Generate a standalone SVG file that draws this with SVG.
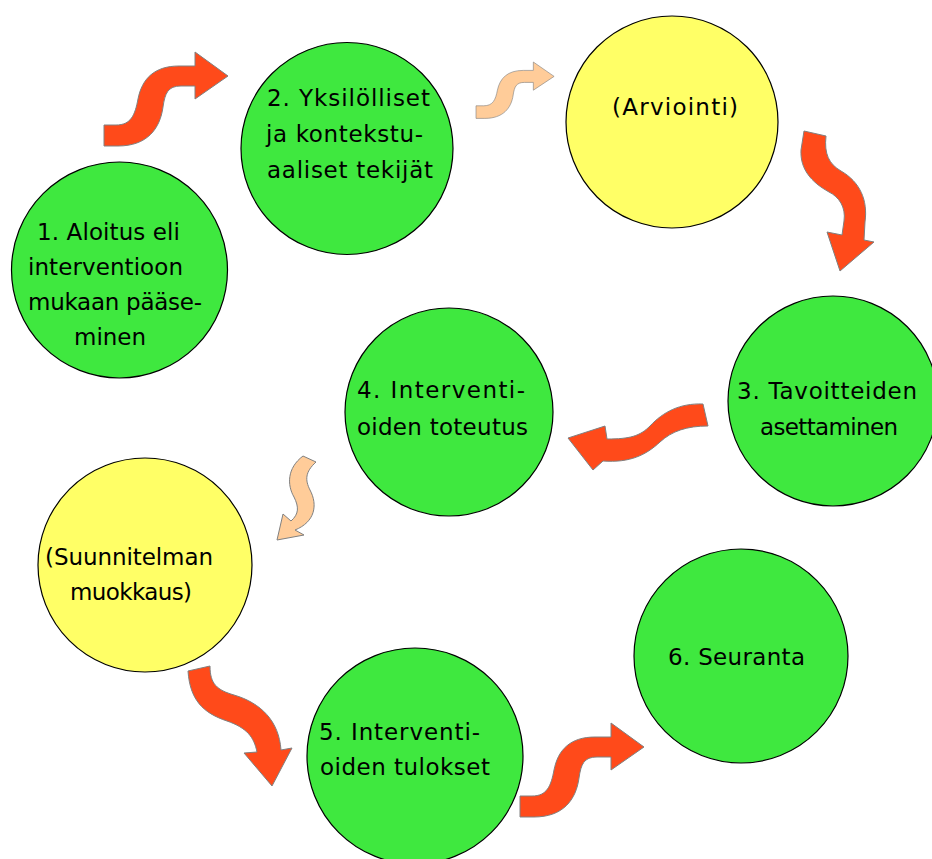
<svg xmlns="http://www.w3.org/2000/svg" xmlns:xlink="http://www.w3.org/1999/xlink" width="932" height="859" viewBox="0 0 932 859">
<style>
.g{fill:#3fe83f;stroke:#000;stroke-width:1.2}
.y{fill:#ffff66;stroke:#000;stroke-width:1.2}
.t{font-family:"DejaVu Sans","Liberation Sans",sans-serif;font-size:23px;fill:#000}
.a{fill:#ff4a1a;stroke:#808080;stroke-width:1}
.p{fill:#ffcc99;stroke:#808080;stroke-width:1}
</style>
<defs>
<path id="sarrow" d="M0,73 L12,73 C27,73 31,63 34,47 C38,27 50,14 75,14 L91,14 L91,0 L124,24 L91,47 L91,34 L77,34 C64,34 61,41 59,55 C56,77 43,94 14,94 L0,94 Z"/>
</defs>
<rect width="932" height="859" fill="#fff"/>
<g id="connectors">
<use xlink:href="#sarrow" class="a" transform="translate(104,52)"/>
<use xlink:href="#sarrow" class="p" transform="translate(476,62) scale(0.63,0.6)"/>
<path class="a" d="M804,131 L826,136 C824,154 829,164 841,171 C860,182 868,200 865,222 L864,240 L874,242 L840,271 L827,232 L842,235 L844,221 C846,207 839,197 829,192 C811,182 800,169 801,150 Z"/>
<path class="a" d="M703,404 C680,403 663,412 650,426 C640,436 630,439 607,439 L605,426 L568,438 L593,470 L603,461 C630,463 646,455 660,442 C672,431 687,426 708,426 Z"/>
<path class="p" d="M303,456 L316,462 C305,472 305,480 310,490 C318,505 315,522 295,530 L304,535 L277,540 L283,514 L291,521 C299,514 299,507 294,497 C287,485 287,468 303,456 Z"/>
<path class="a" d="M188,671 L210,666 C210,684 217,690 234,695 C261,703 279,721 281,750 L292,748 L272,786 L244,753 L257,752 C254,737 247,728 227,721 C203,713 190,700 188,671 Z"/>
<use xlink:href="#sarrow" class="a" transform="translate(520,723)"/>
</g>
<g id="n1">
<circle class="g" cx="119.5" cy="270" r="108"/>
<text class="t" x="37" y="240" textLength="143" lengthAdjust="spacing">1. Aloitus eli</text>
<text class="t" x="28" y="275" textLength="155" lengthAdjust="spacing">interventioon</text>
<text class="t" x="28" y="310" textLength="174" lengthAdjust="spacing">mukaan pääse-</text>
<text class="t" x="74" y="345">minen</text>
</g>
<g id="n2">
<circle class="g" cx="347" cy="148.5" r="106"/>
<text class="t" x="267" y="106" textLength="163" lengthAdjust="spacing">2. Yksilölliset</text>
<text class="t" x="266" y="142" textLength="157" lengthAdjust="spacing">ja kontekstu-</text>
<text class="t" x="267" y="178" textLength="166" lengthAdjust="spacing">aaliset tekijät</text>
</g>
<g id="arviointi">
<circle class="y" cx="672" cy="122" r="106"/>
<text class="t" x="612" y="115" textLength="126" lengthAdjust="spacing">(Arviointi)</text>
</g>
<g id="n3">
<circle class="g" cx="833" cy="401" r="105"/>
<text class="t" x="737" y="399" textLength="180" lengthAdjust="spacing">3. Tavoitteiden</text>
<text class="t" x="760" y="435" textLength="138" lengthAdjust="spacing">asettaminen</text>
</g>
<g id="n4">
<circle class="g" cx="449" cy="412" r="104"/>
<text class="t" x="357" y="398" textLength="168" lengthAdjust="spacing">4. Interventi-</text>
<text class="t" x="357" y="435" textLength="171" lengthAdjust="spacing">oiden toteutus</text>
</g>
<g id="suunnitelma">
<circle class="y" cx="145" cy="565" r="107"/>
<text class="t" x="45" y="565" textLength="168" lengthAdjust="spacing">(Suunnitelman</text>
<text class="t" x="70" y="600" textLength="122" lengthAdjust="spacing">muokkaus)</text>
</g>
<g id="n5">
<circle class="g" cx="415" cy="756" r="108"/>
<text class="t" x="319" y="740" textLength="161" lengthAdjust="spacing">5. Interventi-</text>
<text class="t" x="320" y="775" textLength="170" lengthAdjust="spacing">oiden tulokset</text>
</g>
<g id="n6">
<circle class="g" cx="741" cy="656" r="107"/>
<text class="t" x="668" y="665" textLength="137" lengthAdjust="spacing">6. Seuranta</text>
</g>
</svg>
